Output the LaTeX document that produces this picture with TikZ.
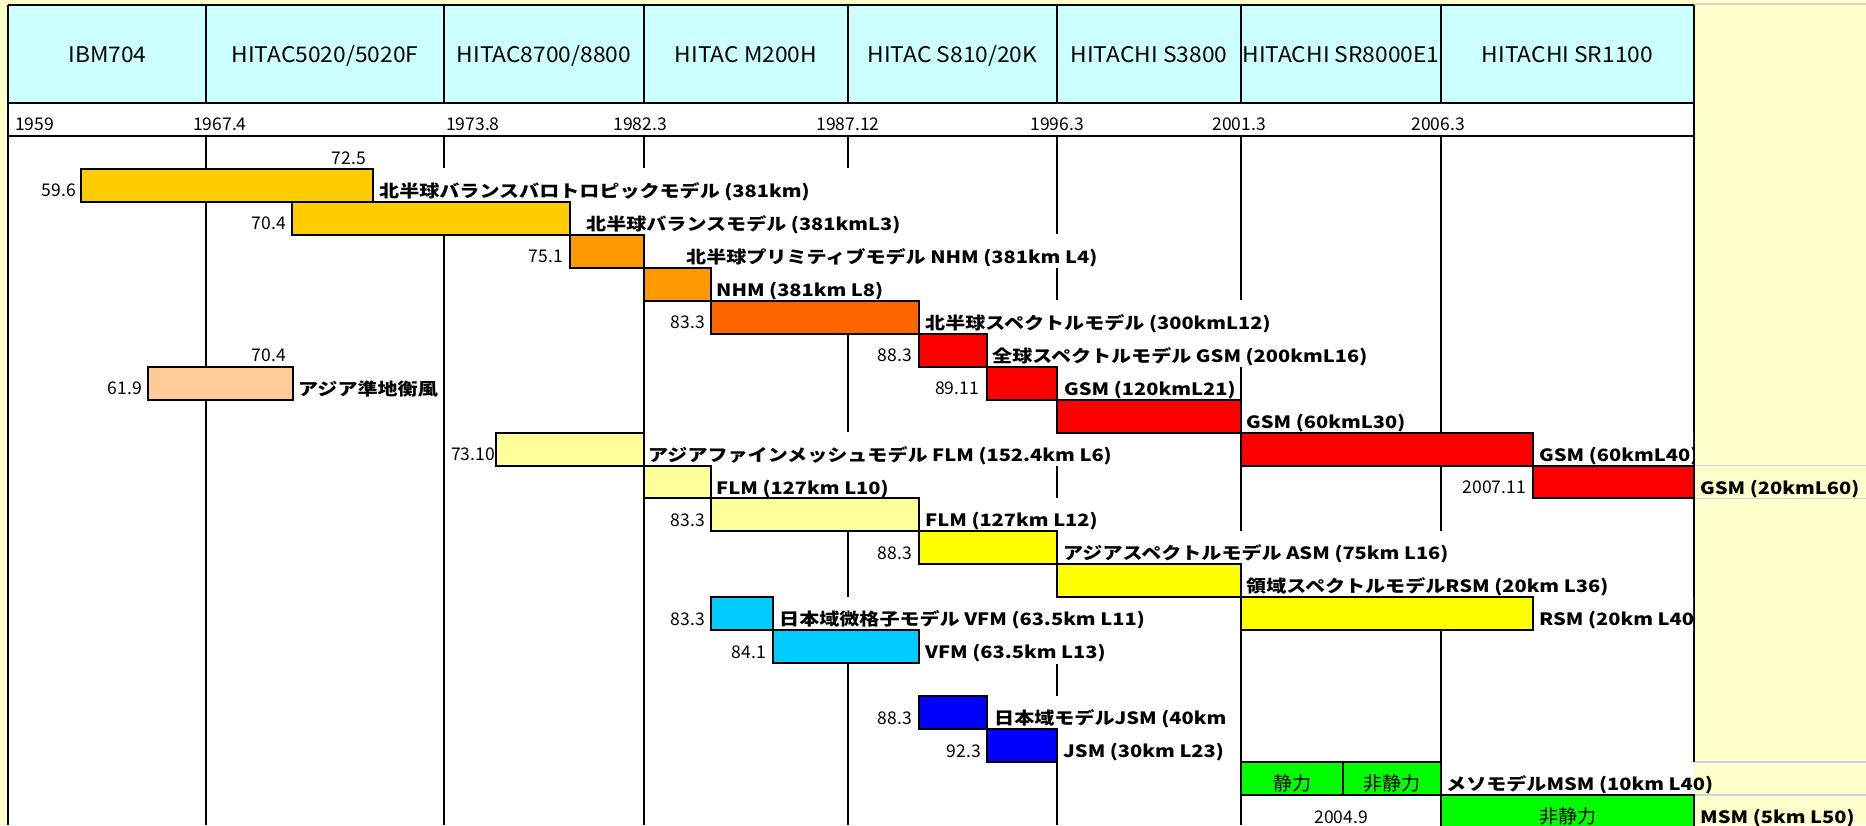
\documentclass[tikz,border=0pt]{standalone}
\usepackage{fontspec}
\setmainfont{Noto Sans CJK JP}
\newfontfamily\lblfont[FakeStretch=1.18]{Noto Sans CJK JP}
\newfontfamily\hdrfont[FakeStretch=1.06]{Noto Sans CJK JP}
\newfontfamily\numfont{Noto Sans CJK JP}
\definecolor{bgyellow}{HTML}{FFFFCC}
\definecolor{hdrcyan}{HTML}{CCFFFF}
\definecolor{cgold}{HTML}{FFCC00}
\definecolor{corange}{HTML}{FF9900}
\definecolor{credor}{HTML}{FF6600}
\definecolor{cred}{HTML}{FF0000}
\definecolor{cpeach}{HTML}{FFCC99}
\definecolor{clyel}{HTML}{FFFF99}
\definecolor{cyel}{HTML}{FFFF00}
\definecolor{csky}{HTML}{00CCFF}
\definecolor{cblue}{HTML}{0000FF}
\definecolor{cgreen}{HTML}{00FF00}
\definecolor{faintblue}{HTML}{C8D2E8}
\definecolor{faintgray}{HTML}{D4D4D4}
\newcommand\rowy[1]{136+32.95*(#1)}
\newcommand\gbar[4]{\draw[barbox,fill=#4] (#1,{\rowy{#3}}) rectangle (#2,{\rowy{#3+1}});}
\newcommand\numat[4]{\node[num] (#1) at (#2,{\rowy{#3}+28}) {#4};}
\newcommand\labat[5][]{\node[lbl,#1] (#2) at (#3,{\rowy{#4}+28.5}) {#5};}
\begin{document}
\begin{tikzpicture}[x=1pt,y=-1pt,
  hdr/.style={font=\hdrfont\fontsize{21.5}{24}\selectfont, anchor=base, inner sep=0pt},
  yr/.style={font=\numfont\fontsize{17.5}{20}\selectfont, inner sep=0pt},
  num/.style={font=\numfont\fontsize{17.5}{20}\selectfont, anchor=base east, inner sep=0pt},
  lbl/.style={font=\lblfont\bfseries\fontsize{17}{20}\selectfont, anchor=base west, inner xsep=1pt, inner ysep=0pt, text height=29pt, text depth=5pt, fill=white},
  cell/.style={font=\numfont\fontsize{19}{21}\selectfont, anchor=base, inner sep=0pt},
  barbox/.style={draw=black, line width=2pt},
  grid/.style={line width=2pt, draw=black},
  faint/.style={line width=1.5pt, draw=faintblue}]
\clip (0,0) rectangle (1866,825);
% backgrounds
\fill[bgyellow] (0,0) rectangle (1866,825);
\fill[white] (8,5) rectangle (1694,825);
\fill[hdrcyan] (8,5) rectangle (1694,103);
\draw[line width=2pt, draw=faintgray] (1694,4) -- (1866,4);
\foreach \yy in {465.5,498.5,762,795} \draw[faint] (1694,\yy) -- (1866,\yy);
% grid
\draw[grid] (8,5) -- (1694,5);
\draw[grid] (8,103) -- (1694,103);
\draw[grid] (8,136) -- (1694,136);
\draw[grid] (8,5) -- (8,825);
\draw[grid] (1694,5) -- (1694,762);
\draw[grid] (1694,795) -- (1694,825);
\foreach \xx in {206,444,644,848,1057,1241,1441} {
  \draw[grid] (\xx,5) -- (\xx,103);
  \draw[grid] (\xx,136) -- (\xx,825);
}
\fill[white] (838,{\rowy{1}-0.5}) rectangle (858,{\rowy{2}+0.5});
% header texts
\node[hdr] (h1) at (107.5,62) {IBM704};
\node[hdr] (h2) at (325,62) {HITAC5020/5020F};
\node[hdr] (h3) at (544,62) {HITAC8700/8800};
\node[hdr] (h4) at (746,62) {HITAC M200H};
\node[hdr] (h5) at (952.5,62) {HITAC S810/20K};
\node[hdr] (h6) at (1149,62) {HITACHI S3800};
\node[hdr] (h7) at (1341,62) {HITACHI SR8000E1};
\node[hdr] (h8) at (1567.5,62) {HITACHI SR1100};
% year row
\node[yr, anchor=base west] (y1) at (15,130) {1959};
\node[yr, anchor=base west] (y2) at (193,130) {1967.4};
\node[yr, anchor=base west] (y3) at (446,130) {1973.8};
\node[yr, anchor=base] (y4) at (640,130) {1982.3};
\node[yr, anchor=base] (y5) at (848,130) {1987.12};
\node[yr, anchor=base] (y6) at (1057,130) {1996.3};
\node[yr, anchor=base] (y7) at (1239,130) {2001.3};
\node[yr, anchor=base] (y8) at (1438,130) {2006.3};
% labels
\labat{l1}{378}{1}{北半球バランスバロトロピックモデル (381km)}
\labat{l2}{585}{2}{北半球バランスモデル (381kmL3)}
\labat{l3}{685}{3}{北半球プリミティブモデル NHM (381km L4)}
\labat{l4}{715}{4}{NHM (381km L8)}
\labat{l5}{924}{5}{北半球スペクトルモデル (300kmL12)}
\labat{l6}{991}{6}{全球スペクトルモデル GSM (200kmL16)}
\labat{l7}{1063}{7}{GSM (120kmL21)}
\labat{l7b}{297}{7}{アジア準地衡風}
\labat{l8}{1245}{8}{GSM (60kmL30)}
\begin{scope}
\clip (1500,0) rectangle (1693,825);
\labat{l9}{1538}{9}{GSM (60kmL40)}
\labat{l14}{1538}{14}{RSM (20km L40}
\end{scope}
\labat{l9b}{647}{9}{アジアファインメッシュモデル FLM (152.4km L6)}
\labat[fill=none]{l10}{1699}{10}{GSM (20kmL60)}
\labat{l10b}{715}{10}{FLM (127km L10)}
\labat{l11}{924}{11}{FLM (127km L12)}
\labat{l12}{1062}{12}{アジアスペクトルモデル ASM (75km L16)}
\labat{l13}{1245}{13}{領域スペクトルモデルRSM (20km L36)}
\labat{l14b}{778}{14}{日本域微格子モデル VFM (63.5km L11)}
\labat{l15}{924}{15}{VFM (63.5km L13)}
\labat{l17}{993}{17}{日本域モデルJSM (40km}
\labat{l18}{1062}{18}{JSM (30km L23)}
\labat[fill=none]{l19}{1445}{19}{メソモデルMSM (10km L40)}
\labat[fill=none]{l20}{1699}{20}{MSM (5km L50)}
% bars
\gbar{81}{373}{1}{cgold}
\gbar{292}{570}{2}{cgold}
\gbar{570}{644}{3}{corange}
\gbar{644}{711}{4}{corange}
\gbar{711}{919}{5}{credor}
\gbar{919}{987}{6}{cred}
\gbar{987}{1057}{7}{cred}
\gbar{1057}{1241}{8}{cred}
\gbar{1241}{1533}{9}{cred}
\gbar{1533}{1694}{10}{cred}
\gbar{148}{293}{7}{cpeach}
\gbar{496}{644}{9}{clyel}
\gbar{644}{711}{10}{clyel}
\gbar{711}{919}{11}{clyel}
\gbar{919}{1057}{12}{cyel}
\gbar{1057}{1241}{13}{cyel}
\gbar{1241}{1533}{14}{cyel}
\gbar{711}{773}{14}{csky}
\gbar{773}{919}{15}{csky}
\gbar{919}{987}{17}{cblue}
\gbar{987}{1057}{18}{cblue}
\gbar{1241}{1343}{19}{cgreen}
\gbar{1343}{1441}{19}{cgreen}
\gbar{1441}{1694}{20}{cgreen}
% numbers
\numat{n0}{366}{0}{72.5}
\numat{n1}{76}{1}{59.6}
\numat{n2}{286}{2}{70.4}
\numat{n3}{563}{3}{75.1}
\numat{n5}{705}{5}{83.3}
\numat{n6}{912}{6}{88.3}
\numat{n6b}{286}{6}{70.4}
\numat{n7}{979}{7}{89.11}
\numat{n7b}{142}{7}{61.9}
\numat{n9}{495}{9}{73.10}
\numat{n10}{1526}{10}{2007.11}
\numat{n11}{705}{11}{83.3}
\numat{n12}{912}{12}{88.3}
\numat{n14}{705}{14}{83.3}
\numat{n15}{766}{15}{84.1}
\numat{n17}{912}{17}{88.3}
\numat{n18}{981}{18}{92.3}
\node[num, anchor=base] (n20) at (1341,{\rowy{20}+28}) {2004.9};
% green cell texts
\node[cell] (g1) at (1292,{\rowy{19}+28}) {静力};
\node[cell] (g2) at (1392,{\rowy{19}+28}) {非静力};
\node[cell] (g3) at (1567.5,{\rowy{20}+28}) {非静力};
\end{tikzpicture}
\end{document}
